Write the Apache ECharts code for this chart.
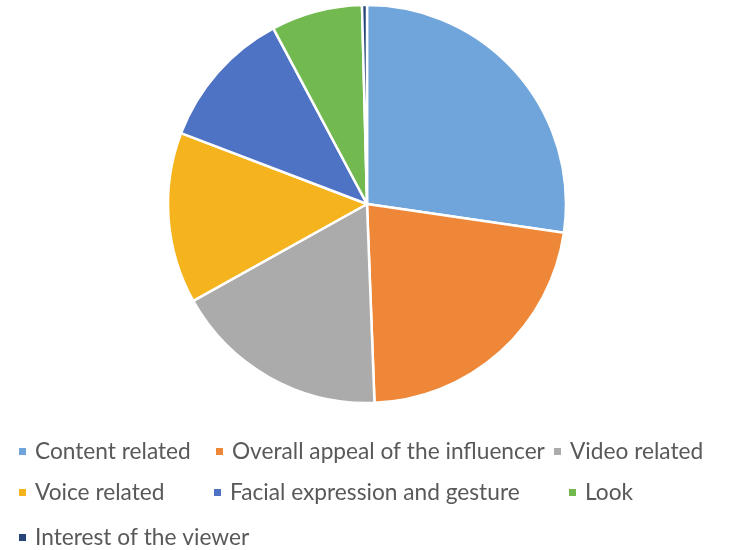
<!DOCTYPE html>
<html>
<head>
<meta charset="utf-8">
<script src="https://cdn.jsdelivr.net/npm/echarts@6/dist/echarts.min.js"></script>
<style>
  html, body { margin: 0; padding: 0; background: #fff; }
  #chart { width: 731px; height: 550px; }
</style>
</head>
<body>
<div id="chart"></div>
<script>
// data (percent of answers)
const categories = ['Content related', 'Overall appeal of the influencer', 'Video related',
  'Voice related', 'Facial expression and gesture', 'Look', 'Interest of the viewer']
const values = [27.3, 22.1, 17.5, 13.9, 11.4, 7.4, 0.4]
const colors = ['#6FA5DA', '#EE8737', '#ABABAB', '#F5B41E', '#4F73C4', '#72B94F', '#264478']

// where each legend entry sits (rows like the Excel legend)
const legendPos = [
  [17, 440], [214, 440], [552, 440],
  [17, 481], [212, 481], [567, 481],
  [17, 526]
]

const myChart = echarts.init(document.getElementById('chart'))

const legends = categories.map((name, i) => ({
  data: [name],
  left: legendPos[i][0],
  top: legendPos[i][1],
  padding: 0,
  orient: 'horizontal',
  icon: 'rect',
  itemWidth: 9,
  itemHeight: 9,
  itemGap: 0,
  selectedMode: false,
  textStyle: {
    fontFamily: 'Lato',
    fontSize: 22.7,
    color: '#595959',
    padding: [0, 0, 0, 3]
  }
}))

const option = {
  animation: false,
  color: colors,
  legend: legends,
  series: [{
    type: 'pie',
    center: [367, 204],
    radius: 199,
    startAngle: 90,
    clockwise: true,
    label: { show: false },
    labelLine: { show: false },
    itemStyle: { borderColor: '#fff', borderWidth: 2.5 },
    data: categories.map((name, i) => ({ name, value: values[i] }))
  }]
}
myChart.setOption(option)
</script>
</body>
</html>
